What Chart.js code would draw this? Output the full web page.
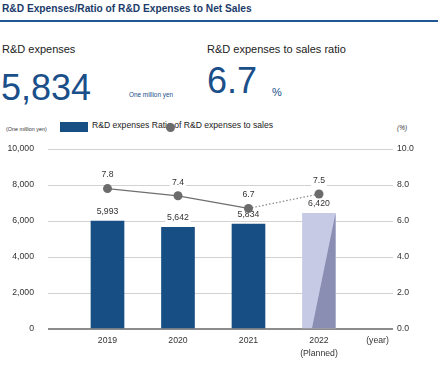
<!DOCTYPE html>
<html><head><meta charset="utf-8">
<script src="https://cdn.jsdelivr.net/npm/chart.js@4.4.0/dist/chart.umd.min.js"></script>
<style>
html,body{margin:0;padding:0;background:#fff}
body{width:442px;height:375px;overflow:hidden;position:relative;font-family:"Liberation Sans",Arial,sans-serif}
.a{position:absolute;white-space:nowrap;line-height:1}
#c{position:absolute;left:0;top:110px}
</style></head><body>
<div class="a" style="left:2px;top:3.5px;font-weight:bold;font-size:10.2px;color:#1c3b69">R&amp;D Expenses/Ratio of R&amp;D Expenses to Net Sales</div>
<div class="a" style="left:0;top:20px;width:438px;height:2px;background:#1f5894"></div>
<div class="a" style="left:2px;top:43.5px;font-size:11px;color:#222">R&amp;D expenses</div>
<div class="a" style="left:207px;top:43.5px;font-size:11px;color:#222">R&amp;D expenses to sales ratio</div>
<div class="a" style="left:1px;top:69.5px;font-size:36px;color:#1a4f8a">5,834</div>
<div class="a" style="left:129px;top:91.5px;font-size:6.4px;color:#1a4f8a">One million yen</div>
<div class="a" style="left:207px;top:62.5px;font-size:36px;color:#1a4f8a">6.7</div>
<div class="a" style="left:272px;top:87px;font-size:11px;color:#1a4f8a">%</div>
<div class="a" style="left:6px;top:127px;font-size:5.4px;color:#333">(One million yen)</div>
<div class="a" style="left:397px;top:125px;font-size:6.5px;font-style:italic;color:#333">(%)</div>
<div class="a" style="left:60px;top:122px;width:28px;height:10px;background:#174e84"></div>
<div class="a" style="left:92px;top:121.2px;font-size:8.6px;color:#222">R&amp;D expenses Ratio of R&amp;D expenses to sales</div>
<div class="a" style="left:165.5px;top:122.5px;width:9px;height:9px;border-radius:50%;background:#6b6b6b"></div>
<canvas id="c" width="442" height="265"></canvas>
<script>
const years = ["2019", "2020", "2021", "2022"];
const xTickLabels = ["2019", "2020", "2021", ["2022", "(Planned)"], "(year)"];
const xTickValues = [0, 1, 2, 3, 3.83];
const rdExpenses = [5993, 5642, 5834, 6420];
const ratio = [7.8, 7.4, 6.7, 7.5];
const leftTicks = [0, 2000, 4000, 6000, 8000, 10000];
const rightTicks = [0, 2, 4, 6, 8, 10];

const FONT = '"Liberation Sans", Arial, sans-serif';
const LABEL_SIZE = 8.7;

function drawBoxedText(ctx, text, x, y) {
  ctx.save();
  ctx.font = LABEL_SIZE + 'px ' + FONT;
  const w = ctx.measureText(text).width;
  ctx.fillStyle = '#ffffff';
  ctx.fillRect(x - w / 2 - 2, y - 6, w + 4, 12);
  ctx.fillStyle = '#333333';
  ctx.textAlign = 'center';
  ctx.textBaseline = 'middle';
  ctx.fillText(text, x, y);
  ctx.restore();
}

const labelPlugin = {
  id: 'labelPlugin',
  afterDatasetDraw(chart, args) {
    if (args.index !== 0) return;
    const ctx = chart.ctx;
    const meta = args.meta;
    const el = meta.data[3];
    if (el) {
      const left = el.x - el.width / 2, right = el.x + el.width / 2;
      ctx.save();
      ctx.fillStyle = '#8a8eb2';
      ctx.beginPath();
      ctx.moveTo(left + el.width * 0.29, el.base);
      ctx.lineTo(right, el.y);
      ctx.lineTo(right, el.base);
      ctx.closePath();
      ctx.fill();
      ctx.restore();
    }
    meta.data.forEach((b, i) => {
      drawBoxedText(ctx, rdExpenses[i].toLocaleString('en-US'), b.x, b.y - 9.5);
    });
  },
  afterDatasetsDraw(chart) {
    const meta = chart.getDatasetMeta(1);
    meta.data.forEach((p, i) => {
      drawBoxedText(chart.ctx, ratio[i].toFixed(1), p.x, p.y - 13.5);
    });
  }
};

new Chart(document.getElementById('c'), {
  data: {
    datasets: [
      {
        type: 'bar',
        label: 'R&D expenses',
        data: rdExpenses.map((v, i) => ({ x: i, y: v })),
        backgroundColor: ['#174e84', '#174e84', '#174e84', '#c6cae5'],
        barThickness: 33,
        yAxisID: 'y',
        order: 1
      },
      {
        type: 'line',
        label: 'Ratio of R&D expenses to sales',
        data: ratio.map((v, i) => ({ x: i, y: v })),
        borderColor: '#6f6f6f',
        borderWidth: 1.2,
        pointRadius: 4.5,
        pointBackgroundColor: '#6b6b6b',
        pointBorderColor: '#6b6b6b',
        pointBorderWidth: 0,
        yAxisID: 'y1',
        order: 0,
        segment: {
          borderDash: c => c.p1DataIndex === 3 ? [1.5, 2] : undefined,
          borderColor: c => c.p1DataIndex === 3 ? '#888888' : undefined
        }
      }
    ]
  },
  options: {
    responsive: false,
    animation: false,
    devicePixelRatio: 1,
    layout: { padding: { top: 39, left: 0, right: 0, bottom: 0 } },
    plugins: { legend: { display: false }, tooltip: { enabled: false } },
    scales: {
      x: {
        type: 'linear',
        offset: false,
        min: -0.844,
        max: 4.05,
        grid: { display: false, offset: false, drawTicks: false },
        border: { display: false },
        afterBuildTicks: s => { s.ticks = xTickValues.map(v => ({ value: v })); },
        afterFit: s => { s.height = 46; },
        ticks: {
          autoSkip: false,
          maxRotation: 0,
          padding: 5,
          color: '#333',
          font: { family: FONT, size: LABEL_SIZE, lineHeight: 1.5 },
          callback: (v, i) => xTickLabels[i]
        }
      },
      y: {
        position: 'left',
        min: 0,
        max: 10000,
        afterBuildTicks: s => { s.ticks = leftTicks.map(v => ({ value: v })); },
        afterFit: s => { s.width = 48; },
        border: { display: false },
        grid: {
          drawTicks: false,
          color: c => c.tick.value === 0 ? '#8c8c8c' : '#d2d2d2',
          lineWidth: c => c.tick.value === 0 ? 2 : 1
        },
        ticks: {
          padding: 14,
          color: '#333',
          font: { family: FONT, size: LABEL_SIZE },
          callback: v => v.toLocaleString('en-US')
        }
      },
      y1: {
        position: 'right',
        min: 0,
        max: 10,
        afterBuildTicks: s => { s.ticks = rightTicks.map(v => ({ value: v })); },
        afterFit: s => { s.width = 49; },
        border: { display: false },
        grid: { display: false, drawTicks: false },
        ticks: {
          padding: 4,
          color: '#333',
          font: { family: FONT, size: LABEL_SIZE },
          callback: v => v.toFixed(1)
        }
      }
    }
  },
  plugins: [labelPlugin]
});
</script>
</body></html>
